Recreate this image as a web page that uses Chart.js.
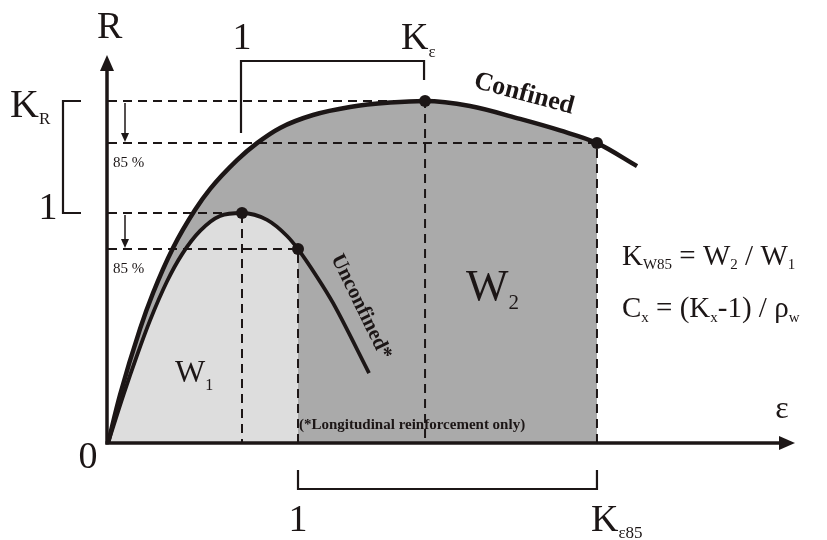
<!DOCTYPE html>
<html>
<head>
<meta charset="utf-8">
<script src="https://cdn.jsdelivr.net/npm/chart.js@4.4.1/dist/chart.umd.min.js"></script>
<style>
  html, body { margin: 0; padding: 0; background: #fff; }
  canvas { display: block; }
</style>
</head>
<body>
<canvas id="chart" width="827" height="540"></canvas>
<script>
// strain (relative to unconfined peak strain) and stress ratio R
const confinedStrain = [0, 0.090, 0.239, 0.336, 0.485, 0.649, 0.761, 0.963, 1.112, 1.284, 1.530, 1.806, 2.105, 2.366, 2.701, 3.075, 3.373, 3.649, 3.948];
const confinedR      = [0, 0.209, 0.496, 0.652, 0.848, 1.013, 1.104, 1.230, 1.304, 1.370, 1.426, 1.461, 1.480, 1.487, 1.465, 1.409, 1.359, 1.304, 1.204];
const unconfinedStrain = [0, 0.119, 0.216, 0.313, 0.440, 0.552, 0.687, 0.836, 1.0, 1.187, 1.336, 1.418, 1.560, 1.679, 1.948];
const unconfinedR      = [0, 0.216, 0.380, 0.532, 0.702, 0.820, 0.922, 0.987, 1.0, 0.970, 0.900, 0.843, 0.722, 0.609, 0.304];

// peak and 85 % post-peak points [strain, R]
const unconfinedPeak = [1.0, 1.0];
const unconfined85   = [1.418, 0.843];
const confinedPeak   = [2.366, 1.487];
const confined85     = [3.649, 1.304];

const ink = '#1c1616';
const serif = '"Liberation Serif", "DejaVu Serif", serif';

const pts = (xs, ys) => xs.map((x, i) => ({ x: x, y: ys[i] }));
const upTo = (list, xmax) => list.filter(p => p.x <= xmax + 1e-9);
const guide = p => [{ x: 0, y: p[1] }, { x: p[0], y: p[1] }, { x: p[0], y: 0 }];

const confinedPts = pts(confinedStrain, confinedR);
const unconfinedPts = pts(unconfinedStrain, unconfinedR);

function txt(ctx, s, x, y, size, opt) {
  opt = opt || {};
  ctx.save();
  ctx.font = (opt.bold ? 'bold ' : '') + size + 'px ' + serif;
  ctx.fillStyle = ink;
  ctx.textAlign = opt.align || 'left';
  ctx.textBaseline = opt.base || 'alphabetic';
  if (opt.rot) {
    ctx.translate(x, y);
    ctx.rotate(opt.rot * Math.PI / 180);
    ctx.fillText(s, 0, 0);
  } else {
    ctx.fillText(s, x, y);
  }
  ctx.restore();
}

// pieces: [text, size, dy]
function run(ctx, pieces, x, y) {
  ctx.save();
  ctx.fillStyle = ink;
  ctx.textBaseline = 'alphabetic';
  pieces.forEach(([s, size, dy]) => {
    ctx.font = size + 'px ' + serif;
    ctx.fillText(s, x, y + (dy || 0));
    x += ctx.measureText(s).width;
  });
  ctx.restore();
}

function line(ctx, coords, w) {
  ctx.lineWidth = w;
  ctx.beginPath();
  ctx.moveTo(coords[0], coords[1]);
  for (let i = 2; i < coords.length; i += 2) ctx.lineTo(coords[i], coords[i + 1]);
  ctx.stroke();
}

function tri(ctx, a, b, c) {
  ctx.beginPath();
  ctx.moveTo(a[0], a[1]); ctx.lineTo(b[0], b[1]); ctx.lineTo(c[0], c[1]);
  ctx.closePath();
  ctx.fill();
}

const decor = {
  id: 'decor',
  afterDatasetsDraw(chart) {
    const ctx = chart.ctx;
    const xs = chart.scales.x, ys = chart.scales.y;
    const X = v => xs.getPixelForValue(v), Y = v => ys.getPixelForValue(v);
    const x0 = X(0), y0 = Y(0);
    ctx.save();
    ctx.strokeStyle = ink;
    ctx.fillStyle = ink;
    ctx.lineCap = 'butt';

    // axes with arrow heads
    line(ctx, [x0 - 1, y0 + 1.5, x0 - 1, 68], 3.5);
    tri(ctx, [x0 - 1, 55], [x0 - 8, 71], [x0 + 6, 71]);
    line(ctx, [x0 - 2.5, y0, 782, y0], 3.5);
    tri(ctx, [795, y0], [779, y0 - 7], [779, y0 + 7]);

    // 85 % drop arrows
    const ax = x0 + 17;
    [[unconfinedPeak, unconfined85], [confinedPeak, confined85]].forEach(([pk, p85]) => {
      line(ctx, [ax, Y(pk[1]) + 2, ax, Y(p85[1]) - 8], 1.5);
      tri(ctx, [ax, Y(p85[1]) - 1], [ax - 4, Y(p85[1]) - 10], [ax + 4, Y(p85[1]) - 10]);
      txt(ctx, '85 %', x0 + 5, Y(p85[1]) + 24, 15);
    });

    // brackets
    line(ctx, [X(unconfinedPeak[0]) - 1, 133, X(unconfinedPeak[0]) - 1, 61, X(confinedPeak[0]) - 1, 61, X(confinedPeak[0]) - 1, 80], 2.2);
    line(ctx, [81, Y(confinedPeak[1]), 63, Y(confinedPeak[1]), 63, Y(unconfinedPeak[1]), 81, Y(unconfinedPeak[1])], 2.2);
    line(ctx, [X(unconfined85[0]), 470, X(unconfined85[0]), 489, X(confined85[0]), 489, X(confined85[0]), 470], 2.2);

    // axis and bracket labels
    txt(ctx, 'R', 97, 38, 38);
    txt(ctx, '1', X(unconfinedPeak[0]), 49, 38, { align: 'center' });
    run(ctx, [['K', 38], ['\u03b5', 17, 8]], X(confinedPeak[0]) - 24, 49);
    run(ctx, [['K', 40], ['R', 17, 7]], 10, 117);
    txt(ctx, '1', 48, 219, 38, { align: 'center' });
    txt(ctx, '0', 88, 468, 38, { align: 'center' });
    txt(ctx, '\u03b5', 782, 418, 32, { align: 'center' });
    txt(ctx, '1', X(unconfined85[0]), 531, 38, { align: 'center' });
    run(ctx, [['K', 38], ['\u03b585', 17, 7]], X(confined85[0]) - 6, 531);

    // curve names
    txt(ctx, 'Confined', 524, 94, 26, { bold: true, align: 'center', base: 'middle', rot: 15 });
    txt(ctx, 'Unconfined*', 361, 307, 21, { bold: true, align: 'center', base: 'middle', rot: 64 });
    txt(ctx, '(*Longitudinal reinforcement only)', X(unconfined85[0]) + 1, 429, 15, { bold: true });

    // areas
    run(ctx, [['W', 32], ['1', 16, 8]], 175, 382);
    run(ctx, [['W', 45], ['2', 21, 9]], 466, 300);

    // formulas
    run(ctx, [['K', 29], ['W85', 15, 4], [' = ', 29], ['W', 29], ['2', 15, 4], [' / ', 29], ['W', 29], ['1', 15, 4]], 622, 265);
    run(ctx, [['C', 29], ['x', 15, 5], [' = (', 29], ['K', 29], ['x', 15, 5], ['-1) / ', 29], ['\u03c1', 29], ['w', 15, 5]], 622, 317);

    ctx.restore();
  }
};

new Chart(document.getElementById('chart').getContext('2d'), {
  type: 'line',
  data: {
    datasets: [
      {
        label: 'W2 area',
        data: upTo(confinedPts, confined85[0]),
        fill: 'origin',
        backgroundColor: '#aaaaaa',
        borderWidth: 0,
        pointRadius: 0,
        cubicInterpolationMode: 'monotone',
        order: 6
      },
      {
        label: 'W1 area',
        data: upTo(unconfinedPts, unconfined85[0]),
        fill: 'origin',
        backgroundColor: '#dddddd',
        borderWidth: 0,
        pointRadius: 0,
        cubicInterpolationMode: 'monotone',
        order: 5
      },
      ...[unconfinedPeak, unconfined85, confinedPeak, confined85].map(p => ({
        label: 'guide',
        data: guide(p),
        borderColor: ink,
        borderWidth: 2,
        borderDash: [9, 6],
        pointRadius: 0,
        fill: false,
        tension: 0,
        order: 4
      })),
      {
        label: 'Confined',
        data: confinedPts,
        borderColor: ink,
        borderWidth: 4.5,
        pointRadius: 0,
        fill: false,
        cubicInterpolationMode: 'monotone',
        order: 2
      },
      {
        label: 'Unconfined',
        data: unconfinedPts,
        borderColor: ink,
        borderWidth: 3.8,
        pointRadius: 0,
        fill: false,
        cubicInterpolationMode: 'monotone',
        order: 2
      },
      {
        label: 'points',
        data: [unconfinedPeak, unconfined85, confinedPeak, confined85].map(p => ({ x: p[0], y: p[1] })),
        showLine: false,
        pointRadius: 6,
        pointBackgroundColor: ink,
        pointBorderWidth: 0,
        order: 1
      }
    ]
  },
  options: {
    responsive: false,
    animation: false,
    events: [],
    layout: { padding: { left: 108, right: 49, top: 52, bottom: 97 } },
    plugins: { legend: { display: false }, tooltip: { enabled: false } },
    scales: {
      x: { type: 'linear', min: 0, max: 5, display: false },
      y: { type: 'linear', min: 0, max: 1.7, display: false }
    }
  },
  plugins: [decor]
});
</script>
</body>
</html>
